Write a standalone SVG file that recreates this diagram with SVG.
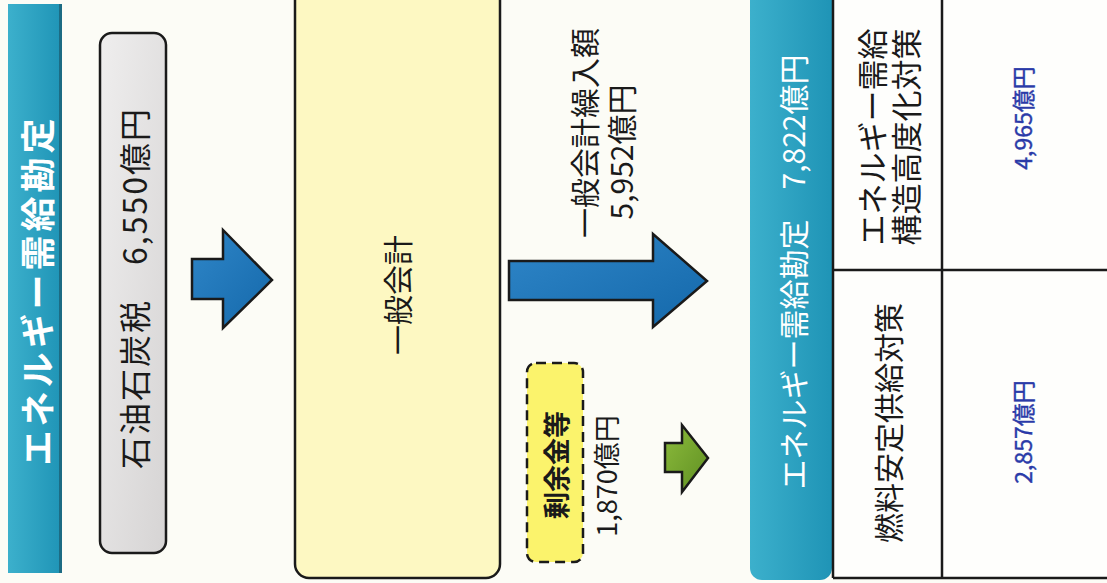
<svg xmlns="http://www.w3.org/2000/svg" width="1107" height="583" viewBox="0 0 1107 583">
<defs>
<linearGradient id="teal" x1="0" y1="0" x2="1" y2="0">
<stop offset="0" stop-color="#3cb0cc"/><stop offset="1" stop-color="#1f94b6"/>
</linearGradient>
<linearGradient id="gray" x1="0" y1="0" x2="1" y2="1">
<stop offset="0" stop-color="#efeeee"/><stop offset="1" stop-color="#d6d4d4"/>
</linearGradient>
<linearGradient id="blue" x1="0" y1="0" x2="1" y2="1">
<stop offset="0" stop-color="#2f86c8"/><stop offset="1" stop-color="#1468aa"/>
</linearGradient>
<linearGradient id="green" x1="0" y1="0" x2="1" y2="1">
<stop offset="0" stop-color="#8cbb3c"/><stop offset="1" stop-color="#5f8f22"/>
</linearGradient>
<style>
.t{font-family:"Noto Sans CJK JP","Noto Sans",sans-serif;text-anchor:middle;dominant-baseline:central}
.w{fill:#ffffff}
.k{fill:#1a1a1a}
.b{fill:#2a3aa8;stroke:#2a3aa8;stroke-width:0.4}
.arrow{stroke:#1a1a1a;stroke-width:2.5;stroke-linejoin:miter}
.line{stroke:#1a1a1a;stroke-width:2.5;fill:none}
</style>
</defs>
<rect x="0" y="0" width="1107" height="583" fill="#fcfcf6"/>

<g id="title">
<rect x="8" y="4" width="54" height="569" fill="url(#teal)"/>
<rect x="59" y="4" width="3" height="569" fill="#1a5060" opacity="0.6"/>
<text class="t w" font-size="35" font-weight="bold" letter-spacing="4" transform="translate(35,290) rotate(-90)">エネルギー需給勘定</text>
</g>

<g id="tax">
<rect x="100" y="33" width="66" height="520" rx="12" fill="url(#gray)" stroke="#1a1a1a" stroke-width="2.5"/>
<text class="t k" font-size="32" letter-spacing="2" transform="translate(133,288) rotate(-90)">石油石炭税　6,550億円</text>
</g>

<g id="general">
<rect x="295" y="-20" width="205" height="598" rx="14" fill="#fdf8c2" stroke="#1a1a1a" stroke-width="2.5"/>
<text class="t k" font-size="30" transform="translate(396,295) rotate(-90)">一般会計</text>
</g>

<g id="surplus">
<rect x="527" y="363" width="56" height="199" rx="9" fill="#fbf36c" stroke="#1a1a1a" stroke-width="2.5" stroke-dasharray="10 6"/>
<text class="t k" font-size="27" font-weight="bold" transform="translate(555,465) rotate(-90)">剰余金等</text>
<text class="t k" font-size="27" transform="translate(605,476) rotate(-90)">1,870億円</text>
</g>

<g id="transfer-label">
<text class="t k" font-size="30" transform="translate(583,133) rotate(-90)">一般会計繰入額</text>
<text class="t k" font-size="30" transform="translate(620,152) rotate(-90)">5,952億円</text>
</g>

<g id="account">
<rect x="750" y="-20" width="82" height="600" rx="12" fill="url(#teal)"/>
<text class="t w" font-size="30" transform="translate(792,272) rotate(-90)">エネルギー需給勘定　7,822億円</text>
</g>

<g id="table">
<rect x="833" y="-5" width="280" height="583" fill="#fefefc"/>
<line class="line" x1="833" y1="-5" x2="833" y2="578"/>
<line class="line" x1="942" y1="-5" x2="942" y2="578"/>
<line class="line" x1="833" y1="270" x2="1110" y2="270"/>
<line class="line" x1="833" y1="578" x2="1110" y2="578"/>
</g>

<g id="cell-structure">
<text class="t k" font-size="31" transform="translate(870,137) rotate(-90)">エネルギー需給</text>
<text class="t k" font-size="31" transform="translate(904,137) rotate(-90)">構造高度化対策</text>
<text class="t b" font-size="23" transform="translate(1022,118) rotate(-90)">4,965億円</text>
</g>

<g id="cell-fuel">
<text class="t k" font-size="30" transform="translate(887,423) rotate(-90)">燃料安定供給対策</text>
<text class="t b" font-size="23" transform="translate(1022,432) rotate(-90)">2,857億円</text>
</g>

<g id="connectors">
<polygon class="arrow" fill="url(#blue)" points="192,259 223,259 223,230 272,280 223,328 223,299 192,299"/>
<polygon class="arrow" fill="url(#blue)" points="509,261 653,261 653,234 707,281 653,327 653,300 509,300"/>
<polygon class="arrow" fill="url(#green)" points="665,443 682,443 682,425 708,458 682,492 682,472 665,472"/>
</g>
</svg>
